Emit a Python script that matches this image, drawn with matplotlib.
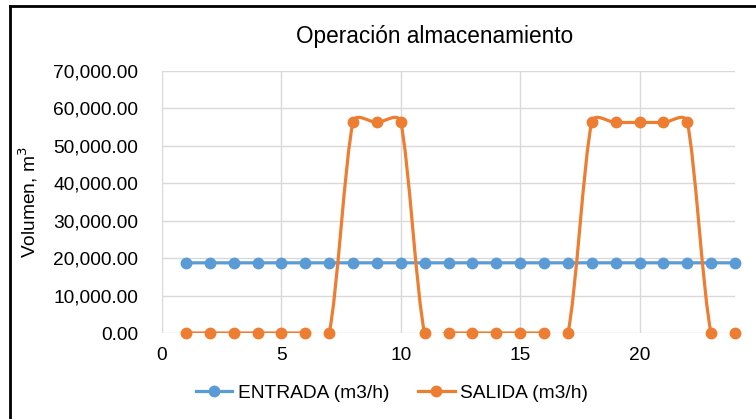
import numpy as np
import matplotlib
matplotlib.use("Agg")
import matplotlib.pyplot as plt
from matplotlib.path import Path
from matplotlib.patches import PathPatch
from matplotlib.lines import Line2D

plt.rcParams['font.family'] = ['Liberation Sans', 'DejaVu Sans']

# datos
horas = list(range(1, 25))
entrada = [18750] * 24
salida = [0, 0, 0, 0, 0, 0, 0, 56250, 56250, 56250, 0, 0, 0, 0, 0, 0, 0,
          56250, 56250, 56250, 56250, 56250, 0, 0]

azul = '#5B9BD5'
naranja = '#ED7D31'
gris = '#D9D9D9'

fig = plt.figure(figsize=(7.56, 4.19), dpi=100)
ax = fig.add_axes([162 / 756, 1 - 333 / 419, 573 / 756, 262 / 419])
ax.set_xlim(0, 24)
ax.set_ylim(0, 70000)


def curva_suave(ax, xs, ys):
    # suavizado tipo Excel (bezier) calculado en pixeles
    pts = ax.transData.transform(np.column_stack([xs, ys]))
    n = len(pts)
    verts = [pts[0]]
    codes = [Path.MOVETO]
    for i in range(n - 1):
        p0 = pts[max(i - 1, 0)]
        p1 = pts[i]
        p2 = pts[i + 1]
        p3 = pts[min(i + 2, n - 1)]
        d12 = np.hypot(*(p2 - p1))
        d02 = np.hypot(*(p2 - p0))
        d13 = np.hypot(*(p3 - p1))
        f1 = 1 / 6 if d02 / 6 < d12 / 2 else d12 / (2 * d02)
        f2 = 1 / 6 if d13 / 6 < d12 / 2 else d12 / (2 * d13)
        c1 = p1 + (p2 - p0) * f1
        c2 = p2 - (p3 - p1) * f2
        verts += [c1, c2, p2]
        codes += [Path.CURVE4] * 3
    verts = ax.transData.inverted().transform(np.array(verts))
    return Path(verts, codes)


for ys, color in [(entrada, azul), (salida, naranja)]:
    patch = PathPatch(curva_suave(ax, horas, ys), fill=False, edgecolor=color,
                      linewidth=2.3, capstyle='round', joinstyle='round', zorder=3)
    ax.add_patch(patch)
    ax.plot(horas, ys, linestyle='none', marker='o', markersize=7.5, color=color,
            clip_on=False, zorder=4)

ax.set_xticks([0, 5, 10, 15, 20])
ax.set_yticks(range(0, 70001, 10000))
ax.yaxis.set_major_formatter(matplotlib.ticker.StrMethodFormatter('{x:,.2f}'))
ax.grid(True, color=gris, linewidth=1)
ax.set_axisbelow(True)
for s in ax.spines.values():
    s.set_visible(False)
ax.tick_params(length=0, labelsize=13.8, colors='#000000', pad=10)
ax.tick_params(axis='y', pad=17)

ax.set_ylabel('Volumen, m$^3$', fontsize=13.8, labelpad=10)
fig.text(435 / 756, 1 - 37 / 419, 'Operación almacenamiento', fontsize=16.3,
         ha='center', va='center')

handles = [Line2D([], [], color=azul, linewidth=2.3, marker='o', markersize=7.5),
           Line2D([], [], color=naranja, linewidth=2.3, marker='o', markersize=7.5)]
fig.legend(handles, ['ENTRADA (m3/h)', 'SALIDA (m3/h)'], loc='center',
           bbox_to_anchor=(392 / 756, 1 - 393 / 419), ncol=2, frameon=False,
           fontsize=13.8, handlelength=1.9, handletextpad=0.3, columnspacing=1.5)

# borde del grafico
fig.add_artist(Line2D([10 / 756, 10 / 756], [0, 1 - 6 / 419], color='black', linewidth=2))
fig.add_artist(Line2D([10 / 756, 1], [1 - 6 / 419, 1 - 6 / 419], color='black', linewidth=2))

fig.savefig('out.png', dpi=100)
